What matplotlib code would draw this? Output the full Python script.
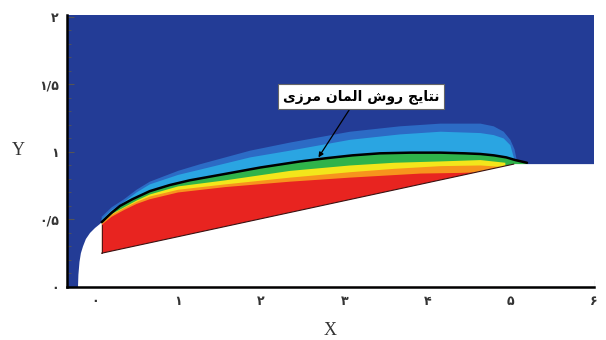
import matplotlib.pyplot as plt
import numpy as np

# colours of the contour levels (outer -> inner)
bg_blue = '#233c96'
band_colors = ['#2c6bc5', '#2aa5e2', '#2fb34a', '#f3e61b', '#f7941d', '#e82420']

# body outline: blunt nose, cone, cylinder
nose_x = [-0.205, -0.20, -0.187, -0.17, -0.145, -0.11, -0.06, 0.0, 0.06, 0.08]
nose_y = [0.00, 0.09, 0.185, 0.25, 0.30, 0.355, 0.40, 0.437, 0.467, 0.48]
cone_x = [0.08, 5.04]
cone_y = [0.25, 0.91]
cyl_y = 0.91

# upper edges of each coloured level
blue_x = [0.08, 0.2, 0.35, 0.5, 0.66, 1.0, 1.27, 1.87, 2.35, 3.07, 3.67, 4.16, 4.64, 4.80, 4.92, 5.00, 5.05, 5.08]
blue_y = [0.52, 0.59, 0.65, 0.72, 0.78, 0.86, 0.91, 1.01, 1.07, 1.15, 1.19, 1.21, 1.21, 1.19, 1.15, 1.09, 1.02, 0.93]
cyan_x = [0.08, 0.2, 0.35, 0.5, 0.66, 1.0, 1.27, 1.87, 2.35, 3.07, 3.67, 4.16, 4.64, 4.80, 4.92, 5.00, 5.05]
cyan_y = [0.50, 0.57, 0.63, 0.70, 0.76, 0.83, 0.87, 0.96, 1.01, 1.09, 1.13, 1.15, 1.14, 1.125, 1.10, 1.05, 0.94]
# boundary element result (black line), also top of green level
bem_x = [0.08, 0.2, 0.3, 0.45, 0.66, 0.9, 1.14, 1.59, 1.99, 2.47, 2.80, 3.1, 3.43, 3.8,
         4.16, 4.45, 4.64, 4.8, 4.95, 5.06, 5.20]
bem_y = [0.48, 0.55, 0.60, 0.65, 0.71, 0.755, 0.79, 0.84, 0.885, 0.93, 0.955, 0.975, 0.99, 0.995,
         0.995, 0.99, 0.985, 0.975, 0.96, 0.94, 0.92]
yel_x = [0.08, 0.2, 0.35, 0.5, 0.66, 1.0, 1.57, 2.35, 3.07, 3.6, 4.16, 4.64, 4.94]
yel_y = [0.475, 0.54, 0.59, 0.64, 0.685, 0.745, 0.79, 0.86, 0.90, 0.92, 0.93, 0.94, 0.92]
ora_x = [0.08, 0.2, 0.35, 0.5, 0.66, 1.0, 1.57, 2.35, 3.07, 3.6, 4.16, 4.64, 4.88]
ora_y = [0.47, 0.535, 0.585, 0.63, 0.67, 0.72, 0.76, 0.81, 0.85, 0.875, 0.895, 0.90, 0.89]
red_x = [0.08, 0.2, 0.35, 0.5, 0.66, 1.0, 1.57, 2.35, 3.07, 3.92, 4.40, 4.64]
red_y = [0.46, 0.52, 0.57, 0.615, 0.65, 0.70, 0.74, 0.78, 0.81, 0.84, 0.845, 0.85]

x_ticks = [0, 1, 2, 3, 4, 5, 6]
x_labels = ['۰', '۱', '۲', '۳', '۴', '۵', '۶']
y_ticks = [0, 0.5, 1, 1.5, 2]
y_labels = ['۰', '۰/۵', '۱', '۱/۵', '۲']

# "نتایج روش المان مرزی" in presentation forms, reversed for LTR drawing
note_txt = ('\uFEE7\uFE98\uFE8E\uFEF3\uFE9E \uFEAD\uFEED\uFEB5 '
            '\uFE8D\uFEDF\uFEE4\uFE8E\uFEE5 \uFEE3\uFEAE\uFEAF\uFEEF')[::-1]

xmin, xmax = -0.337, 6.01

fig = plt.figure(figsize=(6.06, 3.40), dpi=100)
ax = fig.add_axes([0.1106, 0.156, 0.870, 0.80])
ax.set_facecolor(bg_blue)

levels = [(blue_x, blue_y), (cyan_x, cyan_y), (bem_x, bem_y),
          (yel_x, yel_y), (ora_x, ora_y), (red_x, red_y)]
for (lx, ly), c in zip(levels, band_colors):
    ax.fill(lx + [lx[-1], lx[0]], ly + [0, 0], color=c, lw=0, zorder=1)

# white body
body_x = nose_x + [cone_x[0], cone_x[1], xmax, xmax, nose_x[0]]
body_y = nose_y + [cone_y[0], cone_y[1], cyl_y, 0, 0]
ax.fill(body_x, body_y, color='white', lw=0, zorder=2)
ax.plot(cone_x, cone_y, color='#3a1212', lw=0.8, zorder=3)
ax.plot([cone_x[0], cone_x[0]], [cone_y[0], red_y[0]], color='#3a1212', lw=0.6, zorder=3)

ax.plot(bem_x, bem_y, color='black', lw=1.8, zorder=4,
        solid_capstyle='round', solid_joinstyle='round')

ax.annotate(note_txt, xy=(2.69, 0.96), xytext=(3.20, 1.41),
            fontsize=10, fontweight='bold', family='DejaVu Sans',
            ha='center', va='center', zorder=5,
            bbox=dict(boxstyle='square,pad=0.35', fc='white', ec='#666666', lw=0.8),
            arrowprops=dict(arrowstyle='-|>', color='black', lw=0.9,
                            mutation_scale=7, shrinkA=0, shrinkB=0,
                            relpos=(0.45, 0.0)))

ax.set_xlim(xmin, xmax)
ax.set_ylim(0, 2.015)
ax.set_xticks(x_ticks)
ax.set_xticklabels(x_labels, fontsize=9, fontweight='bold', color='#333333')
ax.set_yticks(y_ticks)
ax.set_yticklabels(y_labels, fontsize=9, fontweight='bold', color='#333333')
ax.set_xticks(np.arange(0, 6.01, 0.2), minor=True)
ax.set_yticks(np.arange(0, 2.01, 0.1), minor=True)
ax.tick_params(which='both', direction='in', color='#555555', top=False, right=False)
ax.tick_params(which='major', length=5, pad=6)
ax.tick_params(which='minor', length=3)

for s in ['top', 'right']:
    ax.spines[s].set_visible(False)
for s in ['left', 'bottom']:
    ax.spines[s].set_linewidth(1.8)
    ax.spines[s].set_color('black')

ax.set_xlabel('X', fontsize=13, family='Liberation Serif', color='#333333')
ax.xaxis.set_label_coords(0.499, -0.13)
ax.set_ylabel('Y', fontsize=13, family='Liberation Serif', color='#333333',
              rotation=0, ha='center', va='center')
ax.yaxis.set_label_coords(-0.093, 0.5)

fig.savefig('out.png', dpi=100)
